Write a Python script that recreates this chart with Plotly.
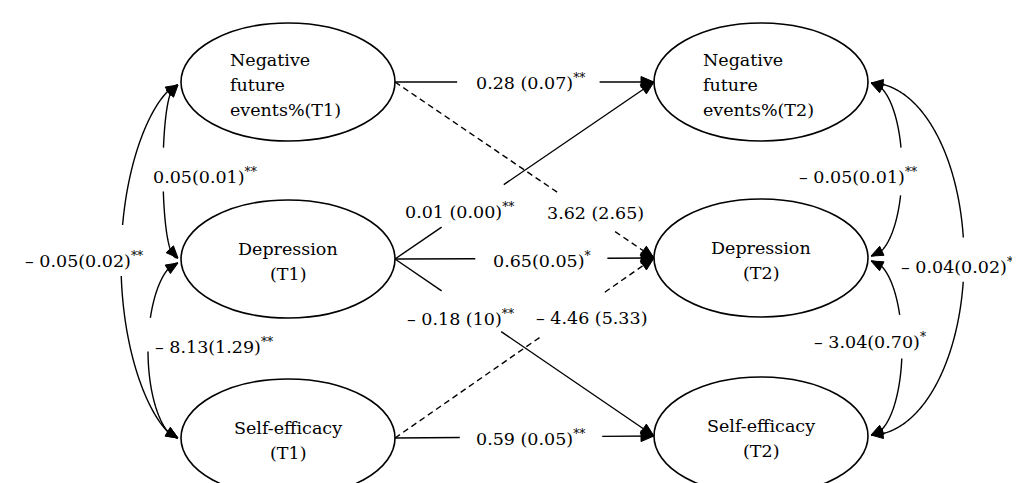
import numpy as np
import plotly.graph_objects as go

# ---------------- data ----------------
t1_nodes = ["Negative<br>future<br>events%(T1)", "Depression<br>(T1)", "Self-efficacy<br>(T1)"]
t2_nodes = ["Negative<br>future<br>events%(T2)", "Depression<br>(T2)", "Self-efficacy<br>(T2)"]

path_from = [0, 0, 1, 1, 1, 2, 2]
path_to = [0, 1, 0, 1, 2, 1, 2]
path_est = ["0.28 (0.07)", "3.62 (2.65)", "0.01 (0.00)", "0.65(0.05)",
            "– 0.18 (10)", "– 4.46 (5.33)", "0.59 (0.05)"]
path_sig = ["**", "", "**", "*", "**", "", "**"]

cov_pairs = [(0, 1), (1, 2), (0, 2)]
cov_t1_est = ["0.05(0.01)", "– 8.13(1.29)", "– 0.05(0.02)"]
cov_t1_sig = ["**", "**", "**"]
cov_t2_est = ["– 0.05(0.01)", "– 3.04(0.70)", "– 0.04(0.02)"]
cov_t2_sig = ["**", "*", "*"]

# ---------------- layout (positions / styles) ----------------
W, H = 1020, 483
X1, X2 = 280, 753
RX, RY = 107, 59
ROW1 = [74, 251, 430]
ROW2 = [74, 250, 428]
FONT = "DejaVu Serif"
FS = 17.5
LW = 1.4

path_label_xy = [(522, 74), (587, 205), (451, 203), (534, 252), (452, 310), (583, 310), (522, 430)]
path_gap_t = [(0.24, 0.79), (0.63, 0.85), (0.18, 0.42), (0.31, 0.82), (0.18, 0.41), (0.56, 0.81), (0.25, 0.80)]

# curve geometry: (y_start, y_end, bulge, exponent, gap_y0, gap_y1, label_x, label_y, label_anchor)
cov_t1_geom = [(77, 250, 15, 0.8, 140, 183, 197, 168, "center"),
               (255, 430, 30, 1.1, 310, 343, 206, 338, "center"),
               (77, 430, 57, 1.3, 217, 267, 76, 252, "center")]
cov_t2_geom = [(75, 248, 31, 1.0, 140, 187, 850, 168, "center"),
               (253, 427, 31, 1.0, 307, 350, 862, 333, "center"),
               (75, 427, 93, 1.0, 230, 273, 891, 258, "left")]

shapes = []
annots = []


def lbl(est, sig):
    return f"{est}<sup>{sig}</sup>" if sig else est


def head(tip, direction, L=13, Wd=5.5):
    d = np.asarray(direction, float)
    d = d / np.linalg.norm(d)
    n = np.array([-d[1], d[0]])
    base = np.asarray(tip, float) - d * L
    p1 = base + n * Wd
    p2 = base - n * Wd
    shapes.append(dict(type="path",
                       path=f"M{tip[0]:.2f},{tip[1]:.2f} L{p1[0]:.2f},{p1[1]:.2f} L{p2[0]:.2f},{p2[1]:.2f} Z",
                       fillcolor="black", line=dict(color="black", width=1)))


# ellipses + node text
for cx, rows, labels, left_align in [(X1, ROW1, t1_nodes, 220), (X2, ROW2, t2_nodes, 693)]:
    for cy, lab in zip(rows, labels):
        shapes.append(dict(type="circle", x0=cx - RX, x1=cx + RX, y0=cy - RY, y1=cy + RY,
                           line=dict(color="black", width=1.6)))
        lines = lab.split("<br>")
        n = len(lines)
        off = 3 if n == 3 else 2
        for i, ln in enumerate(lines):
            y = cy + off + (i - (n - 1) / 2) * 25
            if n == 3:
                annots.append(dict(x=left_align, y=y, text=ln, xanchor="left", yanchor="middle",
                                   showarrow=False, font=dict(family=FONT, size=FS, color="black")))
            else:
                annots.append(dict(x=cx, y=y, text=ln, xanchor="center", yanchor="middle",
                                   showarrow=False, font=dict(family=FONT, size=FS, color="black")))

# regression paths
for k in range(len(path_from)):
    p0 = np.array([X1 + RX, ROW1[path_from[k]]], float)
    p1 = np.array([X2 - RX, ROW2[path_to[k]]], float)
    dash = "solid" if path_sig[k] else "6px,4px"
    g0, g1 = path_gap_t[k]
    a = p0 + (p1 - p0) * g0
    b = p0 + (p1 - p0) * g1
    for s, e in [(p0, a), (b, p1)]:
        shapes.append(dict(type="line", x0=s[0], y0=s[1], x1=e[0], y1=e[1],
                           line=dict(color="black", width=LW, dash=dash)))
    head(p1, p1 - p0)
    lx, ly = path_label_xy[k]
    annots.append(dict(x=lx, y=ly, text=lbl(path_est[k], path_sig[k]), showarrow=False,
                       xanchor="center", yanchor="middle",
                       font=dict(family=FONT, size=FS, color="black")))


# covariance curves (super-elliptic arcs)
def curve(xe, side, geom, est, sig):
    y0, y3, rx, p, gy0, gy1, lx, ly, anc = geom
    cy = (y0 + y3) / 2
    ry = (y3 - y0) / 2
    th = np.linspace(0, np.pi, 400)
    xs = xe + side * rx * np.sin(th) ** p
    ys = cy - ry * np.cos(th)
    pts = np.column_stack([xs, ys])
    ingap = (pts[:, 1] > gy0) & (pts[:, 1] < gy1)
    segs = []
    cur = []
    for q, g in zip(pts, ingap):
        if g:
            if cur:
                segs.append(cur)
            cur = []
        else:
            cur.append(q)
    if cur:
        segs.append(cur)
    for sg in segs:
        if len(sg) < 2:
            continue
        path = "M" + " L".join(f"{q[0]:.2f},{q[1]:.2f}" for q in sg)
        shapes.append(dict(type="path", path=path, line=dict(color="black", width=LW)))
    seg_len = np.r_[0, np.cumsum(np.hypot(np.diff(xs), np.diff(ys)))]
    i0 = np.searchsorted(seg_len, 12)
    i1 = np.searchsorted(seg_len, seg_len[-1] - 12)
    head(pts[0], pts[0] - pts[i0], L=12, Wd=5)
    head(pts[-1], pts[-1] - pts[i1], L=12, Wd=5)
    annots.append(dict(x=lx, y=ly, text=lbl(est, sig), showarrow=False,
                       xanchor=anc, yanchor="middle",
                       font=dict(family=FONT, size=FS, color="black")))


for g, e, s in zip(cov_t1_geom, cov_t1_est, cov_t1_sig):
    curve(X1 - RX - 3, -1, g, e, s)
for g, e, s in zip(cov_t2_geom, cov_t2_est, cov_t2_sig):
    curve(X2 + RX + 3, 1, g, e, s)

fig = go.Figure()
fig.update_layout(
    width=W, height=H, margin=dict(l=0, r=0, t=0, b=0),
    paper_bgcolor="white", plot_bgcolor="white",
    font=dict(family=FONT, size=FS, color="black"),
    xaxis=dict(range=[0, W], visible=False, fixedrange=True),
    yaxis=dict(range=[H, 0], visible=False, fixedrange=True),
    shapes=shapes, annotations=annots, showlegend=False,
)
fig.write_html("out.html", config={"displayModeBar": False})
